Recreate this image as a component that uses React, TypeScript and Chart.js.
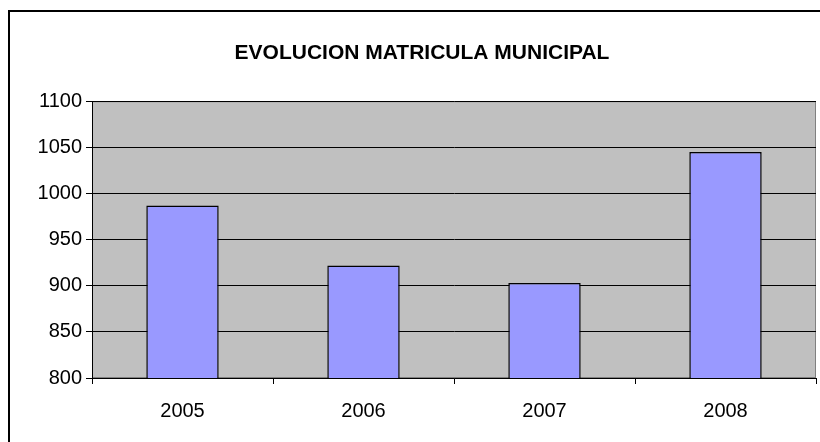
import React, { useEffect, useRef } from "react";
import { Chart, registerables } from "chart.js";

Chart.register(...registerables);

const categories = ["2005", "2006", "2007", "2008"];
const matricula = [987, 922, 903, 1045];
const yTicks = [800, 850, 900, 950, 1000, 1050, 1100];
const chartTitle = "EVOLUCION MATRICULA MUNICIPAL";

const FONT = "'Liberation Sans', Arial, sans-serif";

const framePlugin = {
  id: "frameAndPlot",
  beforeDraw(chart: any) {
    const { ctx, chartArea } = chart;
    ctx.save();
    ctx.fillStyle = "#ffffff";
    ctx.fillRect(0, 0, chart.width, chart.height);
    ctx.strokeStyle = "#000000";
    ctx.lineWidth = 2;
    ctx.strokeRect(9, 11, chart.width + 10, chart.height + 10);
    ctx.fillStyle = "#c0c0c0";
    ctx.fillRect(chartArea.left, chartArea.top, chartArea.right - chartArea.left, chartArea.bottom - chartArea.top);
    ctx.strokeStyle = "#808080";
    ctx.lineWidth = 1;
    ctx.strokeRect(chartArea.left + 0.5, chartArea.top + 0.5, chartArea.right - chartArea.left - 1, chartArea.bottom - chartArea.top - 1);
    ctx.restore();
  },
};

export default function App() {
  const ref = useRef<HTMLCanvasElement | null>(null);
  useEffect(() => {
    document.body.style.margin = "0";
    const canvas = ref.current!;
    const chart = new Chart(canvas, {
      type: "bar",
      data: {
        labels: categories,
        datasets: [
          {
            label: "Matrícula",
            data: matricula,
            backgroundColor: "#9999ff",
            borderColor: "#000000",
            borderWidth: 1.5,
            categoryPercentage: 1,
            barPercentage: 0.4,
          },
        ],
      },
      options: {
        animation: false,
        responsive: false,
        maintainAspectRatio: false,
        layout: { padding: { left: 28, right: 4, top: 0, bottom: 0 } },
        plugins: {
          legend: { display: false },
          tooltip: { enabled: false },
          title: {
            display: true,
            text: chartTitle,
            color: "#000000",
            font: { family: FONT, size: 21, weight: "bold", lineHeight: 1.2 },
            padding: { top: 41, bottom: 35 },
          },
        },
        scales: {
          x: {
            afterFit: (s: any) => {
              s.height = 64;
            },
            grid: {
              offset: true,
              drawOnChartArea: false,
              color: "#000000",
              tickLength: 6,
              tickColor: "#000000",
            },
            border: { display: true, color: "#000000", width: 1 },
            ticks: { color: "#000000", font: { family: FONT, size: 20 }, padding: 15 },
          },
          y: {
            min: 800,
            max: 1100,
            afterFit: (s: any) => {
              s.width = 64;
            },
            afterBuildTicks: (s: any) => {
              s.ticks = yTicks.map((v) => ({ value: v }));
            },
            grid: {
              color: "#000000",
              tickLength: 6,
              tickColor: "#000000",
            },
            border: { display: true, color: "#000000", width: 1 },
            ticks: {
              color: "#000000",
              font: { family: FONT, size: 20 },
              padding: 4,
              callback: (v: any) => String(v),
            },
          },
        },
      },
      plugins: [framePlugin],
    });
    return () => chart.destroy();
  }, []);
  return (
    <div style={{ width: 820, height: 442 }}>
      <canvas ref={ref} width={820} height={442} style={{ display: "block", width: 820, height: 442 }} />
    </div>
  );
}
